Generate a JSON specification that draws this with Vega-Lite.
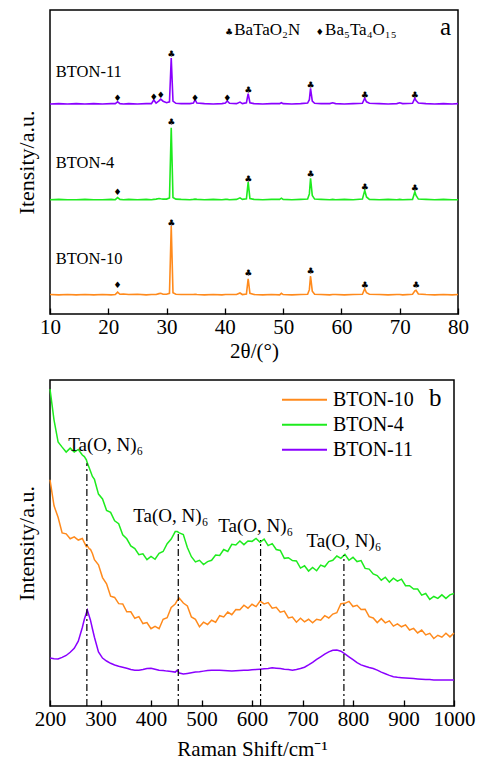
{
  "$schema": "https://vega.github.io/schema/vega-lite/v6.json",
  "padding": {"left": 14, "top": 9, "right": 4, "bottom": 2},
  "spacing": 17,
  "config": {
    "font": "Liberation Serif",
    "view": {"stroke": "black", "strokeWidth": 1.5},
    "axis": {
      "labelFont": "Liberation Serif", "titleFont": "Liberation Serif",
      "labelFontSize": 21, "titleFontSize": 21, "titleFontWeight": "normal",
      "labelColor": "black", "titleColor": "black",
      "grid": false, "domain": false, "tickColor": "black", "tickWidth": 1.3
    },
    "legend": {"labelFont": "Liberation Serif"},
    "text": {"font": "Liberation Serif", "color": "black"}
  },
  "datasets": {
    "xrd": [
      {"t": 10.0, "BTON-10": 6.4, "BTON-4": 37.6, "BTON-11": 69.1},
      {"t": 11.5, "BTON-10": 6.3, "BTON-4": 37.7, "BTON-11": 69.2},
      {"t": 13.0, "BTON-10": 6.4, "BTON-4": 37.6, "BTON-11": 69.1},
      {"t": 14.5, "BTON-10": 6.3, "BTON-4": 37.6, "BTON-11": 69.2},
      {"t": 16.0, "BTON-10": 6.4, "BTON-4": 37.7, "BTON-11": 69.1},
      {"t": 17.5, "BTON-10": 6.3, "BTON-4": 37.6, "BTON-11": 69.2},
      {"t": 19.0, "BTON-10": 6.4, "BTON-4": 37.6, "BTON-11": 69.1},
      {"t": 20.5, "BTON-10": 6.3, "BTON-4": 37.7, "BTON-11": 69.2},
      {"t": 21.2, "BTON-10": 6.4, "BTON-4": 37.6, "BTON-11": 69.2},
      {"t": 21.6, "BTON-10": 7.2, "BTON-4": 38.3, "BTON-11": 69.8},
      {"t": 22.0, "BTON-10": 6.5, "BTON-4": 37.7, "BTON-11": 69.2},
      {"t": 22.6, "BTON-10": 6.6, "BTON-4": 37.6, "BTON-11": 69.1},
      {"t": 23.5, "BTON-10": 6.4, "BTON-4": 37.7, "BTON-11": 69.2},
      {"t": 25.0, "BTON-10": 6.5, "BTON-4": 37.6, "BTON-11": 69.1},
      {"t": 26.5, "BTON-10": 6.3, "BTON-4": 37.7, "BTON-11": 69.2},
      {"t": 27.4, "BTON-10": 6.4, "BTON-4": 37.6, "BTON-11": 69.2},
      {"t": 27.8, "BTON-10": 6.4, "BTON-4": 37.7, "BTON-11": 70.4},
      {"t": 28.2, "BTON-10": 6.4, "BTON-4": 37.8, "BTON-11": 69.4},
      {"t": 28.7, "BTON-10": 6.7, "BTON-4": 38.0, "BTON-11": 70.1},
      {"t": 29.0, "BTON-10": 6.8, "BTON-4": 37.9, "BTON-11": 70.7},
      {"t": 29.4, "BTON-10": 6.5, "BTON-4": 37.8, "BTON-11": 70.0},
      {"t": 30.0, "BTON-10": 6.5, "BTON-4": 37.8, "BTON-11": 69.5},
      {"t": 30.5, "BTON-10": 6.8, "BTON-4": 38.2, "BTON-11": 69.8},
      {"t": 30.8, "BTON-10": 28.9, "BTON-4": 61.3, "BTON-11": 84.2},
      {"t": 31.1, "BTON-10": 7.0, "BTON-4": 38.3, "BTON-11": 70.0},
      {"t": 31.6, "BTON-10": 6.5, "BTON-4": 37.8, "BTON-11": 69.3},
      {"t": 32.5, "BTON-10": 6.4, "BTON-4": 37.7, "BTON-11": 69.2},
      {"t": 34.0, "BTON-10": 6.4, "BTON-4": 37.6, "BTON-11": 69.2},
      {"t": 34.6, "BTON-10": 6.4, "BTON-4": 37.7, "BTON-11": 69.4},
      {"t": 34.9, "BTON-10": 6.5, "BTON-4": 37.8, "BTON-11": 70.5},
      {"t": 35.2, "BTON-10": 6.4, "BTON-4": 37.7, "BTON-11": 69.4},
      {"t": 36.5, "BTON-10": 6.3, "BTON-4": 37.6, "BTON-11": 69.2},
      {"t": 38.0, "BTON-10": 6.4, "BTON-4": 37.7, "BTON-11": 69.1},
      {"t": 39.5, "BTON-10": 6.3, "BTON-4": 37.6, "BTON-11": 69.2},
      {"t": 40.1, "BTON-10": 6.4, "BTON-4": 37.7, "BTON-11": 69.4},
      {"t": 40.4, "BTON-10": 6.4, "BTON-4": 37.7, "BTON-11": 70.1},
      {"t": 40.8, "BTON-10": 6.4, "BTON-4": 37.6, "BTON-11": 69.3},
      {"t": 42.0, "BTON-10": 6.4, "BTON-4": 37.7, "BTON-11": 69.2},
      {"t": 42.6, "BTON-10": 6.9, "BTON-4": 38.2, "BTON-11": 69.7},
      {"t": 43.0, "BTON-10": 6.4, "BTON-4": 37.7, "BTON-11": 69.2},
      {"t": 43.7, "BTON-10": 6.6, "BTON-4": 37.9, "BTON-11": 69.5},
      {"t": 44.0, "BTON-10": 11.6, "BTON-4": 43.4, "BTON-11": 72.5},
      {"t": 44.3, "BTON-10": 6.8, "BTON-4": 38.0, "BTON-11": 69.5},
      {"t": 45.0, "BTON-10": 6.4, "BTON-4": 37.7, "BTON-11": 69.2},
      {"t": 46.5, "BTON-10": 6.3, "BTON-4": 37.6, "BTON-11": 69.1},
      {"t": 48.0, "BTON-10": 6.4, "BTON-4": 37.7, "BTON-11": 69.2},
      {"t": 49.4, "BTON-10": 6.3, "BTON-4": 37.7, "BTON-11": 69.2},
      {"t": 49.7, "BTON-10": 6.8, "BTON-4": 38.1, "BTON-11": 69.5},
      {"t": 50.0, "BTON-10": 6.4, "BTON-4": 37.7, "BTON-11": 69.2},
      {"t": 51.5, "BTON-10": 6.3, "BTON-4": 37.6, "BTON-11": 69.1},
      {"t": 53.0, "BTON-10": 6.4, "BTON-4": 37.7, "BTON-11": 69.2},
      {"t": 54.2, "BTON-10": 6.5, "BTON-4": 37.8, "BTON-11": 69.4},
      {"t": 54.5, "BTON-10": 8.0, "BTON-4": 39.5, "BTON-11": 70.5},
      {"t": 54.7, "BTON-10": 12.5, "BTON-4": 44.6, "BTON-11": 74.2},
      {"t": 55.0, "BTON-10": 7.5, "BTON-4": 39.0, "BTON-11": 70.0},
      {"t": 55.4, "BTON-10": 6.5, "BTON-4": 37.8, "BTON-11": 69.3},
      {"t": 56.5, "BTON-10": 6.4, "BTON-4": 37.7, "BTON-11": 69.2},
      {"t": 58.0, "BTON-10": 6.3, "BTON-4": 37.6, "BTON-11": 69.2},
      {"t": 58.5, "BTON-10": 6.4, "BTON-4": 37.7, "BTON-11": 69.5},
      {"t": 59.0, "BTON-10": 6.4, "BTON-4": 37.6, "BTON-11": 69.2},
      {"t": 60.5, "BTON-10": 6.3, "BTON-4": 37.7, "BTON-11": 69.1},
      {"t": 62.0, "BTON-10": 6.4, "BTON-4": 37.6, "BTON-11": 69.2},
      {"t": 63.6, "BTON-10": 6.5, "BTON-4": 37.8, "BTON-11": 69.3},
      {"t": 64.0, "BTON-10": 8.3, "BTON-4": 40.7, "BTON-11": 71.0},
      {"t": 64.3, "BTON-10": 7.0, "BTON-4": 38.5, "BTON-11": 69.8},
      {"t": 64.8, "BTON-10": 6.5, "BTON-4": 37.7, "BTON-11": 69.3},
      {"t": 66.5, "BTON-10": 6.4, "BTON-4": 37.6, "BTON-11": 69.2},
      {"t": 68.0, "BTON-10": 6.3, "BTON-4": 37.7, "BTON-11": 69.1},
      {"t": 69.5, "BTON-10": 6.4, "BTON-4": 37.6, "BTON-11": 69.2},
      {"t": 70.0, "BTON-10": 6.4, "BTON-4": 37.7, "BTON-11": 69.5},
      {"t": 70.5, "BTON-10": 6.3, "BTON-4": 37.6, "BTON-11": 69.2},
      {"t": 72.2, "BTON-10": 6.5, "BTON-4": 37.7, "BTON-11": 69.3},
      {"t": 72.6, "BTON-10": 7.6, "BTON-4": 40.2, "BTON-11": 71.0},
      {"t": 72.8, "BTON-10": 7.8, "BTON-4": 39.0, "BTON-11": 70.2},
      {"t": 73.2, "BTON-10": 6.6, "BTON-4": 37.8, "BTON-11": 69.4},
      {"t": 74.5, "BTON-10": 6.4, "BTON-4": 37.7, "BTON-11": 69.2},
      {"t": 76.0, "BTON-10": 6.3, "BTON-4": 37.6, "BTON-11": 69.1},
      {"t": 77.5, "BTON-10": 6.4, "BTON-4": 37.7, "BTON-11": 69.2},
      {"t": 79.0, "BTON-10": 6.3, "BTON-4": 37.6, "BTON-11": 69.1},
      {"t": 80.0, "BTON-10": 6.4, "BTON-4": 37.6, "BTON-11": 69.2}
    ],
    "phases": [
      {"t": 21.6, "y": 71.1, "m": "♦"},
      {"t": 27.8, "y": 71.3, "m": "♦"},
      {"t": 29.0, "y": 71.9, "m": "♦"},
      {"t": 30.8, "y": 85.6, "m": "♣"},
      {"t": 34.9, "y": 71.1, "m": "♦"},
      {"t": 40.4, "y": 71.1, "m": "♦"},
      {"t": 44.0, "y": 73.8, "m": "♣"},
      {"t": 54.7, "y": 75.2, "m": "♣"},
      {"t": 64.0, "y": 72.1, "m": "♣"},
      {"t": 72.6, "y": 72.0, "m": "♣"},
      {"t": 21.6, "y": 40.2, "m": "♦"},
      {"t": 30.8, "y": 63.0, "m": "♣"},
      {"t": 44.0, "y": 44.5, "m": "♣"},
      {"t": 54.7, "y": 46.2, "m": "♣"},
      {"t": 64.0, "y": 41.9, "m": "♣"},
      {"t": 72.6, "y": 41.4, "m": "♣"},
      {"t": 21.6, "y": 9.5, "m": "♦"},
      {"t": 30.8, "y": 30.0, "m": "♣"},
      {"t": 44.0, "y": 13.5, "m": "♣"},
      {"t": 54.7, "y": 14.2, "m": "♣"},
      {"t": 64.0, "y": 9.4, "m": "♣"},
      {"t": 72.8, "y": 9.6, "m": "♣"},
      {"t": 40.7, "y": 92.6, "m": "♣"},
      {"t": 56.3, "y": 92.6, "m": "♦"}
    ],
    "xrdText": [
      {"t": 11.0, "y": 79.6, "label": "BTON-11", "size": 16.5},
      {"t": 11.0, "y": 49.8, "label": "BTON-4", "size": 16.5},
      {"t": 11.0, "y": 18.0, "label": "BTON-10", "size": 16.5},
      {"t": 41.6, "y": 93.4, "label": "BaTaO₂N", "size": 17},
      {"t": 57.2, "y": 93.4, "label": "Ba₅Ta₄O₁₅", "size": 17},
      {"t": 76.9, "y": 94.3, "label": "a", "size": 25}
    ],
    "raman": [
      {"x": 200, "BTON-10": 69.4, "BTON-4": 97.2, "BTON-11": 14.7},
      {"x": 208, "BTON-10": 61.4, "BTON-4": 87.7, "BTON-11": 14.5},
      {"x": 216, "BTON-10": 57.9, "BTON-4": 81.0, "BTON-11": 14.4},
      {"x": 224, "BTON-10": 53.1, "BTON-4": 79.4, "BTON-11": 14.9},
      {"x": 232, "BTON-10": 52.8, "BTON-4": 77.9, "BTON-11": 15.5},
      {"x": 240, "BTON-10": 51.3, "BTON-4": 79.1, "BTON-11": 16.5},
      {"x": 248, "BTON-10": 51.9, "BTON-4": 77.9, "BTON-11": 17.7},
      {"x": 256, "BTON-10": 50.9, "BTON-4": 78.7, "BTON-11": 19.9},
      {"x": 264, "BTON-10": 51.4, "BTON-4": 77.0, "BTON-11": 24.1},
      {"x": 268, "BTON-10": 50.1, "BTON-4": 76.5, "BTON-11": 26.6},
      {"x": 272, "BTON-10": 48.9, "BTON-4": 75.5, "BTON-11": 28.5},
      {"x": 274, "BTON-10": 49.1, "BTON-4": 74.5, "BTON-11": 29.4},
      {"x": 278, "BTON-10": 48.2, "BTON-4": 72.9, "BTON-11": 27.4},
      {"x": 280, "BTON-10": 48.1, "BTON-4": 72.1, "BTON-11": 26.4},
      {"x": 284, "BTON-10": 46.8, "BTON-4": 70.4, "BTON-11": 23.7},
      {"x": 288, "BTON-10": 44.9, "BTON-4": 69.5, "BTON-11": 21.1},
      {"x": 296, "BTON-10": 43.3, "BTON-4": 65.0, "BTON-11": 16.6},
      {"x": 304, "BTON-10": 39.4, "BTON-4": 63.5, "BTON-11": 14.7},
      {"x": 312, "BTON-10": 37.5, "BTON-4": 60.0, "BTON-11": 13.8},
      {"x": 320, "BTON-10": 33.7, "BTON-4": 59.4, "BTON-11": 13.1},
      {"x": 328, "BTON-10": 33.3, "BTON-4": 56.8, "BTON-11": 12.6},
      {"x": 336, "BTON-10": 31.4, "BTON-4": 55.9, "BTON-11": 12.2},
      {"x": 344, "BTON-10": 31.3, "BTON-4": 52.5, "BTON-11": 11.9},
      {"x": 352, "BTON-10": 28.9, "BTON-4": 51.3, "BTON-11": 11.6},
      {"x": 360, "BTON-10": 28.9, "BTON-4": 49.1, "BTON-11": 11.2},
      {"x": 368, "BTON-10": 26.9, "BTON-4": 48.3, "BTON-11": 11.0},
      {"x": 376, "BTON-10": 27.4, "BTON-4": 46.4, "BTON-11": 11.0},
      {"x": 384, "BTON-10": 25.3, "BTON-4": 46.7, "BTON-11": 11.2},
      {"x": 392, "BTON-10": 25.6, "BTON-4": 44.9, "BTON-11": 11.5},
      {"x": 400, "BTON-10": 23.7, "BTON-4": 45.9, "BTON-11": 11.6},
      {"x": 408, "BTON-10": 24.4, "BTON-4": 45.0, "BTON-11": 11.3},
      {"x": 416, "BTON-10": 23.7, "BTON-4": 46.8, "BTON-11": 11.0},
      {"x": 424, "BTON-10": 26.6, "BTON-4": 47.4, "BTON-11": 10.9},
      {"x": 432, "BTON-10": 27.1, "BTON-4": 49.8, "BTON-11": 10.7},
      {"x": 440, "BTON-10": 30.2, "BTON-4": 51.2, "BTON-11": 10.6},
      {"x": 448, "BTON-10": 31.3, "BTON-4": 53.5, "BTON-11": 10.4},
      {"x": 452, "BTON-10": 32.4, "BTON-4": 53.5, "BTON-11": 11.0},
      {"x": 456, "BTON-10": 33.1, "BTON-4": 53.1, "BTON-11": 10.1},
      {"x": 464, "BTON-10": 31.6, "BTON-4": 52.6, "BTON-11": 9.8},
      {"x": 472, "BTON-10": 30.7, "BTON-4": 48.6, "BTON-11": 10.0},
      {"x": 480, "BTON-10": 27.3, "BTON-4": 45.8, "BTON-11": 10.2},
      {"x": 488, "BTON-10": 26.6, "BTON-4": 44.2, "BTON-11": 10.4},
      {"x": 496, "BTON-10": 24.3, "BTON-4": 44.7, "BTON-11": 10.5},
      {"x": 504, "BTON-10": 25.7, "BTON-4": 43.4, "BTON-11": 10.7},
      {"x": 512, "BTON-10": 25.0, "BTON-4": 44.3, "BTON-11": 10.9},
      {"x": 520, "BTON-10": 26.3, "BTON-4": 44.7, "BTON-11": 11.0},
      {"x": 528, "BTON-10": 25.7, "BTON-4": 46.3, "BTON-11": 11.0},
      {"x": 536, "BTON-10": 27.7, "BTON-4": 46.2, "BTON-11": 11.0},
      {"x": 544, "BTON-10": 27.3, "BTON-4": 48.0, "BTON-11": 10.9},
      {"x": 552, "BTON-10": 28.8, "BTON-4": 47.4, "BTON-11": 10.8},
      {"x": 560, "BTON-10": 28.0, "BTON-4": 49.6, "BTON-11": 10.7},
      {"x": 568, "BTON-10": 29.6, "BTON-4": 49.4, "BTON-11": 10.8},
      {"x": 576, "BTON-10": 29.5, "BTON-4": 50.6, "BTON-11": 10.9},
      {"x": 584, "BTON-10": 30.9, "BTON-4": 49.5, "BTON-11": 11.0},
      {"x": 592, "BTON-10": 30.0, "BTON-4": 50.6, "BTON-11": 11.0},
      {"x": 600, "BTON-10": 31.2, "BTON-4": 50.5, "BTON-11": 11.1},
      {"x": 608, "BTON-10": 30.5, "BTON-4": 51.4, "BTON-11": 11.2},
      {"x": 616, "BTON-10": 32.2, "BTON-4": 50.2, "BTON-11": 11.3},
      {"x": 624, "BTON-10": 31.3, "BTON-4": 51.2, "BTON-11": 11.4},
      {"x": 632, "BTON-10": 31.7, "BTON-4": 49.2, "BTON-11": 11.5},
      {"x": 640, "BTON-10": 30.0, "BTON-4": 49.8, "BTON-11": 11.7},
      {"x": 648, "BTON-10": 30.3, "BTON-4": 48.0, "BTON-11": 11.6},
      {"x": 656, "BTON-10": 28.8, "BTON-4": 47.7, "BTON-11": 11.5},
      {"x": 664, "BTON-10": 29.1, "BTON-4": 45.3, "BTON-11": 11.3},
      {"x": 672, "BTON-10": 27.0, "BTON-4": 45.5, "BTON-11": 11.2},
      {"x": 680, "BTON-10": 27.3, "BTON-4": 44.6, "BTON-11": 11.0},
      {"x": 688, "BTON-10": 25.7, "BTON-4": 44.5, "BTON-11": 11.2},
      {"x": 696, "BTON-10": 26.9, "BTON-4": 42.3, "BTON-11": 11.5},
      {"x": 704, "BTON-10": 25.8, "BTON-4": 43.0, "BTON-11": 11.9},
      {"x": 712, "BTON-10": 26.6, "BTON-4": 41.4, "BTON-11": 12.6},
      {"x": 720, "BTON-10": 25.5, "BTON-4": 42.5, "BTON-11": 13.4},
      {"x": 728, "BTON-10": 26.6, "BTON-4": 41.5, "BTON-11": 14.3},
      {"x": 736, "BTON-10": 26.3, "BTON-4": 43.2, "BTON-11": 15.1},
      {"x": 744, "BTON-10": 27.7, "BTON-4": 42.7, "BTON-11": 15.9},
      {"x": 752, "BTON-10": 27.0, "BTON-4": 44.3, "BTON-11": 16.6},
      {"x": 760, "BTON-10": 28.2, "BTON-4": 44.7, "BTON-11": 17.1},
      {"x": 768, "BTON-10": 28.6, "BTON-4": 46.0, "BTON-11": 17.2},
      {"x": 776, "BTON-10": 31.4, "BTON-4": 45.3, "BTON-11": 16.8},
      {"x": 784, "BTON-10": 31.5, "BTON-4": 46.5, "BTON-11": 16.0},
      {"x": 792, "BTON-10": 32.1, "BTON-4": 44.7, "BTON-11": 15.1},
      {"x": 800, "BTON-10": 30.5, "BTON-4": 45.6, "BTON-11": 14.2},
      {"x": 808, "BTON-10": 30.9, "BTON-4": 44.3, "BTON-11": 13.3},
      {"x": 816, "BTON-10": 29.6, "BTON-4": 44.6, "BTON-11": 12.6},
      {"x": 824, "BTON-10": 29.7, "BTON-4": 42.2, "BTON-11": 12.2},
      {"x": 832, "BTON-10": 27.4, "BTON-4": 42.0, "BTON-11": 11.8},
      {"x": 840, "BTON-10": 27.0, "BTON-4": 40.5, "BTON-11": 11.5},
      {"x": 848, "BTON-10": 25.6, "BTON-4": 40.0, "BTON-11": 11.0},
      {"x": 856, "BTON-10": 26.8, "BTON-4": 38.6, "BTON-11": 10.4},
      {"x": 864, "BTON-10": 25.5, "BTON-4": 39.5, "BTON-11": 9.9},
      {"x": 872, "BTON-10": 26.1, "BTON-4": 38.0, "BTON-11": 9.4},
      {"x": 880, "BTON-10": 24.5, "BTON-4": 39.2, "BTON-11": 9.0},
      {"x": 888, "BTON-10": 25.2, "BTON-4": 38.3, "BTON-11": 8.8},
      {"x": 896, "BTON-10": 24.3, "BTON-4": 38.9, "BTON-11": 8.7},
      {"x": 904, "BTON-10": 24.9, "BTON-4": 36.9, "BTON-11": 8.6},
      {"x": 912, "BTON-10": 23.3, "BTON-4": 36.9, "BTON-11": 8.5},
      {"x": 920, "BTON-10": 23.8, "BTON-4": 35.9, "BTON-11": 8.4},
      {"x": 928, "BTON-10": 22.4, "BTON-4": 35.9, "BTON-11": 8.3},
      {"x": 936, "BTON-10": 23.3, "BTON-4": 34.0, "BTON-11": 8.2},
      {"x": 944, "BTON-10": 21.8, "BTON-4": 34.5, "BTON-11": 8.1},
      {"x": 952, "BTON-10": 22.3, "BTON-4": 32.7, "BTON-11": 8.1},
      {"x": 960, "BTON-10": 20.7, "BTON-4": 33.6, "BTON-11": 8.0},
      {"x": 968, "BTON-10": 21.7, "BTON-4": 33.0, "BTON-11": 8.0},
      {"x": 976, "BTON-10": 21.1, "BTON-4": 34.1, "BTON-11": 8.0},
      {"x": 984, "BTON-10": 22.3, "BTON-4": 33.0, "BTON-11": 8.0},
      {"x": 992, "BTON-10": 21.2, "BTON-4": 34.1, "BTON-11": 8.0},
      {"x": 1000, "BTON-10": 22.4, "BTON-4": 34.5, "BTON-11": 8.0}
    ],
    "modes": [
      {"x": 273, "base": 0, "top": 74.5, "label": "Ta(O, N)₆", "lx": 236, "ly": 80.1},
      {"x": 454, "base": 0, "top": 53.7, "label": "Ta(O, N)₆", "lx": 365, "ly": 58.3},
      {"x": 617, "base": 0, "top": 50.9, "label": "Ta(O, N)₆", "lx": 533, "ly": 55.2},
      {"x": 782, "base": 0, "top": 46.3, "label": "Ta(O, N)₆", "lx": 708, "ly": 50.6}
    ],
    "panelTag": [
      {"x": 963, "y": 94.5, "label": "b"}
    ]
  },
  "resolve": {"scale": {"color": "independent"}},
  "vconcat": [
    {
      "width": 408,
      "height": 304,
      "layer": [
        {
          "data": {"name": "xrd"},
          "transform": [{"fold": ["BTON-10", "BTON-4", "BTON-11"], "as": ["sample", "intensity"]}],
          "mark": {"type": "line", "strokeWidth": 1.6},
          "encoding": {
            "x": {"field": "t", "type": "quantitative",
                  "scale": {"domain": [10, 80], "nice": false},
                  "axis": {"title": "2θ/(°)", "values": [10, 20, 30, 40, 50, 60, 70, 80], "format": "d", "tickSize": -6, "labelPadding": 8, "titlePadding": 3, "labelFlush": false, "labelFont": "Liberation Serif", "titleFont": "Liberation Serif"}},
            "y": {"field": "intensity", "type": "quantitative",
                  "scale": {"domain": [0, 100], "nice": false},
                  "axis": {"title": "Itensity/a.u.", "labels": false, "ticks": false, "titleFontSize": 22, "titlePadding": 12, "titleFont": "Liberation Serif"}},
            "color": {"field": "sample", "type": "nominal",
                      "scale": {"domain": ["BTON-10", "BTON-4", "BTON-11"], "range": ["#FF8A1C", "#1EEB1E", "#8A00FF"]},
                      "legend": null}
          }
        },
        {
          "data": {"name": "phases"},
          "mark": {"type": "text", "font": "DejaVu Sans", "fontSize": 9, "baseline": "middle", "align": "center"},
          "encoding": {
            "x": {"field": "t", "type": "quantitative"},
            "y": {"field": "y", "type": "quantitative"},
            "text": {"field": "m", "type": "nominal"}
          }
        },
        {
          "data": {"name": "xrdText"},
          "mark": {"type": "text", "baseline": "middle", "align": "left", "font": "Liberation Serif"},
          "encoding": {
            "x": {"field": "t", "type": "quantitative"},
            "y": {"field": "y", "type": "quantitative"},
            "text": {"field": "label", "type": "nominal"},
            "size": {"field": "size", "type": "quantitative", "scale": null}
          }
        }
      ]
    },
    {
      "width": 404,
      "height": 326,
      "layer": [
        {
          "data": {"name": "raman"},
          "transform": [{"fold": ["BTON-10", "BTON-4", "BTON-11"], "as": ["sample", "intensity"]}],
          "mark": {"type": "line", "strokeWidth": 1.5},
          "encoding": {
            "x": {"field": "x", "type": "quantitative",
                  "scale": {"domain": [200, 1000], "nice": false},
                  "axis": {"title": "Raman Shift/cm⁻¹", "values": [200, 300, 400, 500, 600, 700, 800, 900, 1000], "format": "d", "tickSize": -6, "labelPadding": 8, "titlePadding": 9, "labelFlush": false, "labelFont": "Liberation Serif", "titleFont": "Liberation Serif"}},
            "y": {"field": "intensity", "type": "quantitative",
                  "scale": {"domain": [0, 100], "nice": false},
                  "axis": {"title": "Intensity/a.u.", "labels": false, "ticks": false, "titleFontSize": 22, "titlePadding": 12, "titleFont": "Liberation Serif"}},
            "color": {"field": "sample", "type": "nominal",
                      "scale": {"domain": ["BTON-10", "BTON-4", "BTON-11"], "range": ["#FF8A1C", "#1EEB1E", "#8A00FF"]},
                      "legend": {"title": null, "orient": "none", "legendX": 243.5, "legendY": 8.7,
                                 "symbolType": "M-2.25,0H2.25", "symbolSize": 400, "symbolStrokeWidth": 2,
                                 "symbolFillColor": "transparent",
                                 "labelFont": "Liberation Serif", "labelFontSize": 20, "labelColor": "black",
                                 "labelOffset": 17.5, "rowPadding": 4}}
          }
        },
        {
          "data": {"name": "modes"},
          "mark": {"type": "rule", "color": "black", "strokeWidth": 1.2, "strokeDash": [7, 3, 2, 3]},
          "encoding": {
            "x": {"field": "x", "type": "quantitative"},
            "y": {"field": "base", "type": "quantitative"},
            "y2": {"field": "top"}
          }
        },
        {
          "data": {"name": "modes"},
          "mark": {"type": "text", "fontSize": 19, "align": "left", "baseline": "middle", "font": "Liberation Serif"},
          "encoding": {
            "x": {"field": "lx", "type": "quantitative"},
            "y": {"field": "ly", "type": "quantitative"},
            "text": {"field": "label", "type": "nominal"}
          }
        },
        {
          "data": {"name": "panelTag"},
          "mark": {"type": "text", "fontSize": 25, "align": "center", "baseline": "middle", "font": "Liberation Serif"},
          "encoding": {
            "x": {"field": "x", "type": "quantitative"},
            "y": {"field": "y", "type": "quantitative"},
            "text": {"field": "label", "type": "nominal"}
          }
        }
      ]
    }
  ]
}
